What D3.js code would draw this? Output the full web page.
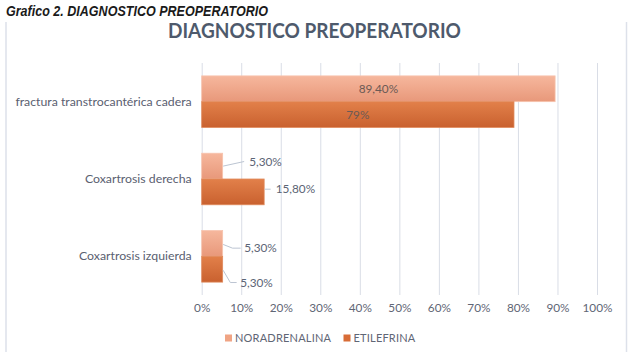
<!DOCTYPE html>
<html><head><meta charset="utf-8">
<script src="https://cdn.jsdelivr.net/npm/d3@7"></script>
<style>
html,body{margin:0;padding:0;background:#fff;}
svg{display:block;font-family:Lato,"Noto Sans",sans-serif;}
</style></head>
<body>
<svg id="chart" width="632" height="352"></svg>
<script>
const categories = ["fractura transtrocantérica cadera","Coxartrosis derecha","Coxartrosis izquierda"];
const seriesNames = ["NORADRENALINA","ETILEFRINA"];
const noradrenalina = [89.4, 5.3, 5.3];
const etilefrina = [79, 15.8, 5.3];
const noradrenalinaLabels = ["89,40%","5,30%","5,30%"];
const etilefrinaLabels = ["79%","15,80%","5,30%"];
const xTicks = [0,10,20,30,40,50,60,70,80,90,100];

// label layout: inside (centered) or outside with leader line offsets
const labelLayout = [
  [{inside:true},{inside:true}],
  [{inside:false, dx:26, dy:-4.6, path:"diag"},{inside:false, dx:11, dy:-2.7, path:"flat"}],
  [{inside:false, dx:21, dy:4.7, path:"elbow"},{inside:false, dx:17, dy:13.3, path:"elbow"}]
];

const svg = d3.select("#chart");
const W = 632, H = 352;
const plot = {left:201.7, right:597, top:63, bottom:295};

// outer chart border (left and right)
svg.append("line").attr("x1",6).attr("x2",6).attr("y1",22).attr("y2",H).attr("stroke","#dde1ea").attr("stroke-width",1.5);
svg.append("line").attr("x1",626.5).attr("x2",626.5).attr("y1",22).attr("y2",H).attr("stroke","#dde1ea").attr("stroke-width",1.5);

// caption
svg.append("text").attr("x",6).attr("y",16)
  .attr("font-family","'Liberation Sans',Arial,sans-serif")
  .attr("font-weight","bold").attr("font-style","italic").attr("font-size",14)
  .attr("fill","#1a1a1a").attr("textLength",262).attr("lengthAdjust","spacingAndGlyphs")
  .text("Grafico 2. DIAGNOSTICO PREOPERATORIO");

// title
svg.append("text").attr("x",168).attr("y",38.3)
  .attr("font-size",20.5).attr("fill","#4e5a6c").attr("font-weight","bold")
  .attr("textLength",293).attr("lengthAdjust","spacingAndGlyphs")
  .text("DIAGNOSTICO PREOPERATORIO");

const x = d3.scaleLinear().domain([0,100]).range([plot.left, plot.right]);
const y = d3.scaleBand().domain(categories).range([plot.top, plot.bottom]).paddingInner(1/3).paddingOuter(1/6);
const ySub = d3.scaleBand().domain(seriesNames).range([0, y.bandwidth()]);

// gridlines
svg.append("g").selectAll("line").data(xTicks).join("line")
  .attr("x1",d=>x(d)+0.5).attr("x2",d=>x(d)+0.5)
  .attr("y1",plot.top).attr("y2",plot.bottom)
  .attr("stroke","#d9dde6").attr("stroke-width",1);

// x axis labels
const xAxis = d3.axisBottom(x).tickValues(xTicks).tickFormat(d=>d+"%").tickSize(0).tickPadding(9);
const gx = svg.append("g").attr("transform",`translate(0,${plot.bottom})`).call(xAxis);
gx.select(".domain").remove();
gx.selectAll("text").attr("font-family","Lato,'Noto Sans',sans-serif").attr("font-size",11.8).attr("fill","#5f6675");

// y axis labels
const yAxis = d3.axisLeft(y).tickSize(0).tickPadding(10);
const gy = svg.append("g").attr("transform",`translate(${plot.left},0)`).call(yAxis);
gy.select(".domain").remove();
gy.selectAll("text").attr("font-family","Lato,'Noto Sans',sans-serif").attr("font-size",12.3).attr("fill","#5a6070");

// gradients
const defs = svg.append("defs");
const gradSpec = [
  {id:"gNor", c:["#f6b79d","#e8987a"]},
  {id:"gEti", c:["#e2804a","#c9612f"]}
];
gradSpec.forEach(g=>{
  const lg = defs.append("linearGradient").attr("id",g.id).attr("x1",0).attr("y1",0).attr("x2",0).attr("y2",1);
  lg.append("stop").attr("offset","0%").attr("stop-color",g.c[0]);
  lg.append("stop").attr("offset","100%").attr("stop-color",g.c[1]);
});
const fills = ["url(#gNor)","url(#gEti)"];
const strokes = ["#f7c3ad","#e08a5c"];
const legendColors = ["#f0a484","#d86c36"];

const seriesVals = [noradrenalina, etilefrina];
const seriesLabels = [noradrenalinaLabels, etilefrinaLabels];

const rows = [];
categories.forEach((c,i)=>{
  seriesNames.forEach((s,j)=>{
    rows.push({cat:c, ci:i, s:s, sj:j, v:seriesVals[j][i], label:seriesLabels[j][i], lay:labelLayout[i][j]});
  });
});

svg.append("g").selectAll("rect").data(rows).join("rect")
  .attr("x",x(0)).attr("y",d=>y(d.cat)+ySub(d.s))
  .attr("width",d=>x(d.v)-x(0)).attr("height",ySub.bandwidth())
  .attr("fill",d=>fills[d.sj]).attr("stroke",d=>strokes[d.sj]).attr("stroke-width",0.8);

// data labels
const lg = svg.append("g").attr("font-family","Lato,'Noto Sans',sans-serif").attr("font-size",11.8).attr("fill","#5b6475");
rows.forEach(d=>{
  const cy = y(d.cat)+ySub(d.s)+ySub.bandwidth()/2;
  if(d.lay.inside){
    lg.append("text").attr("x",(x(0)+x(d.v))/2).attr("y",cy).attr("dy","0.35em")
      .attr("text-anchor","middle").attr("fill","#6b5a55").text(d.label);
  } else {
    const ex = x(d.v)+0.5;
    const lx = ex + d.lay.dx, ly = cy + d.lay.dy;
    let pts;
    if(d.lay.path==="diag") pts=[[ex,cy],[lx-5,ly]];
    else if(d.lay.path==="flat") pts=[[ex,ly],[lx-5,ly]];
    else pts=[[ex,cy+1],[ex+ (d.lay.dx-4)*0.55, ly],[lx-3.5,ly]];
    lg.append("path").attr("d",d3.line()(pts)).attr("fill","none").attr("stroke","#bcc5d2").attr("stroke-width",1);
    lg.append("text").attr("x",lx).attr("y",ly).attr("dy","0.35em").text(d.label);
  }
});

// legend
const leg = svg.append("g").attr("font-family","Lato,'Noto Sans',sans-serif").attr("font-size",11).attr("fill","#5f6675");
const legX = [225, 343.5];
seriesNames.forEach((s,j)=>{
  leg.append("rect").attr("x",legX[j]).attr("y",334.5).attr("width",7).attr("height",7).attr("fill",legendColors[j]);
  leg.append("text").attr("x",legX[j]+10).attr("y",338).attr("dy","0.35em").attr("letter-spacing",0.2).text(s);
});
</script>
</body></html>
